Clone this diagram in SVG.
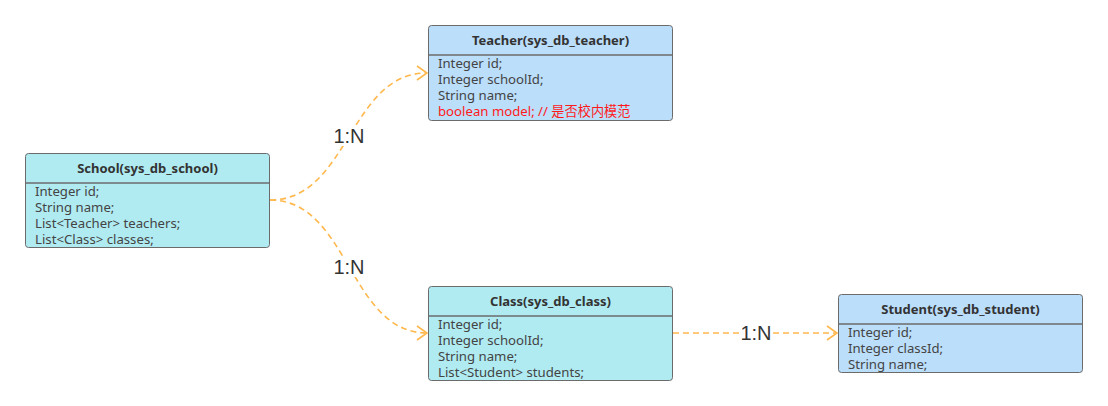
<svg xmlns="http://www.w3.org/2000/svg" width="1108" height="406" viewBox="0 0 1108 406">
<style>
.box{stroke:#6b6b6b;stroke-width:1}
.cyan{fill:#b0ebf2}
.blue{fill:#bbdefb}
.div{stroke:#6b6b6b;stroke-width:1.5}
.title{font-family:"Noto Sans","Open Sans",sans-serif;font-size:13px;font-weight:bold;fill:#333;text-anchor:middle}
.f{font-family:"Noto Sans","Noto Sans CJK SC",sans-serif;font-size:13.2px;fill:#444}
.red{fill:#ff1a1a}
.edge{fill:none;stroke:#ffb84d;stroke-width:1.6;stroke-dasharray:6 4}
.lbl{font-family:"Liberation Sans",Arial,sans-serif;font-size:20px;fill:#333;text-anchor:middle}
</style>
<defs>
<marker id="arr" viewBox="0 0 12 16" refX="11" refY="8" markerWidth="12" markerHeight="16" markerUnits="userSpaceOnUse" orient="auto">
<path d="M1,1 L11,8 L1,15" fill="none" stroke="#ffb84d" stroke-width="1.6"/>
</marker>
</defs>
<g id="connectors">
<path class="edge" d="M270,200 C349,200 349,73 427,73" marker-end="url(#arr)"/>
<path class="edge" d="M270,200 C349,200 349,333 427,333" marker-end="url(#arr)"/>
<path class="edge" d="M673,333 L837,333" marker-end="url(#arr)"/>
<rect x="333" y="126" width="32" height="20" fill="#fff"/>
<text class="lbl" x="349" y="143">1:N</text>
<rect x="333" y="257" width="32" height="20" fill="#fff"/>
<text class="lbl" x="349" y="274">1:N</text>
<rect x="740" y="323" width="33" height="20" fill="#fff"/>
<text class="lbl" x="756" y="340">1:N</text>
</g>
<g id="school">
<rect class="box cyan" x="25.5" y="153.5" width="244" height="94" rx="3"/>
<line class="div" x1="25.5" y1="183" x2="269.5" y2="183"/>
<text class="title" x="147.5" y="173">School(sys_db_school)</text>
<text class="f" x="35" y="196">Integer id;</text>
<text class="f" x="35" y="212">String name;</text>
<text class="f" x="35" y="228">List&lt;Teacher&gt; teachers;</text>
<text class="f" x="35" y="244">List&lt;Class&gt; classes;</text>
</g>
<g id="teacher">
<rect class="box blue" x="428.5" y="25.5" width="244" height="95" rx="3"/>
<line class="div" x1="428.5" y1="55" x2="672.5" y2="55"/>
<text class="title" x="550.5" y="45">Teacher(sys_db_teacher)</text>
<text class="f" x="438" y="68">Integer id;</text>
<text class="f" x="438" y="84">Integer schoolId;</text>
<text class="f" x="438" y="100">String name;</text>
<text class="f red" x="438" y="116">boolean model; // 是否校内模范</text>
</g>
<g id="class">
<rect class="box cyan" x="428.5" y="286.5" width="244" height="94" rx="3"/>
<line class="div" x1="428.5" y1="316" x2="672.5" y2="316"/>
<text class="title" x="550.5" y="306">Class(sys_db_class)</text>
<text class="f" x="438" y="329">Integer id;</text>
<text class="f" x="438" y="345">Integer schoolId;</text>
<text class="f" x="438" y="361">String name;</text>
<text class="f" x="438" y="377">List&lt;Student&gt; students;</text>
</g>
<g id="student">
<rect class="box blue" x="838.5" y="294.5" width="244" height="78" rx="3"/>
<line class="div" x1="838.5" y1="324" x2="1082.5" y2="324"/>
<text class="title" x="960.5" y="314">Student(sys_db_student)</text>
<text class="f" x="848" y="337">Integer id;</text>
<text class="f" x="848" y="353">Integer classId;</text>
<text class="f" x="848" y="369">String name;</text>
</g>
</svg>
